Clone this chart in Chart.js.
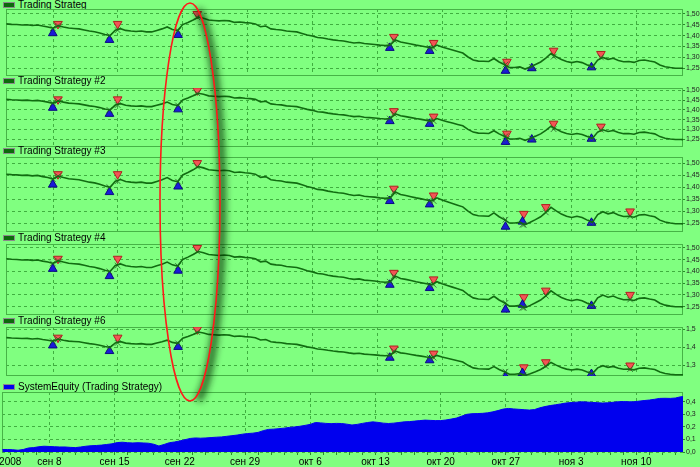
<!DOCTYPE html>
<html>
<head>
<meta charset="utf-8">
<script src="https://cdn.jsdelivr.net/npm/chart.js@4.4.0/dist/chart.umd.min.js"></script>
<style>
  body { margin: 0; background: #80ff80; }
  #wrap { position: relative; width: 700px; height: 467px; overflow: hidden; background: #80ff80; font-family: "Liberation Sans", Arial, sans-serif; }
  #wrap canvas { position: absolute; left: 0; top: 0; }
  .box { position: absolute; left: 3px; width: 10px; height: 4px; border: 1px solid #8a8a8a; }
  .lbl { position: absolute; left: 18px; font-size: 10px; line-height: 10px; color: #000; white-space: nowrap; }
  svg { position: absolute; left: 0; top: 0; pointer-events: none; }
</style>
</head>
<body>
<div id="wrap"></div>
<script>
// time axis: trading days, 0 = Mon Sep 8 2008, one value every 0.4 day
const startDay = -3.6;
const stepDay = 0.4;

// close price (same instrument in all five strategy panels)
const price = [
  1.454, 1.452, 1.451, 1.449, 1.450, 1.447, 1.449, 1.444, 1.440, 1.434,
  1.446, 1.440, 1.435, 1.433, 1.431, 1.426, 1.421, 1.418, 1.412, 1.405,
  1.400, 1.425, 1.432, 1.424, 1.421, 1.419, 1.421, 1.417, 1.417, 1.424,
  1.431, 1.440, 1.428, 1.423, 1.451, 1.461, 1.472, 1.485, 1.480, 1.472,
  1.470, 1.468, 1.470, 1.468, 1.461, 1.463, 1.460, 1.458, 1.454, 1.441,
  1.444, 1.431, 1.428, 1.426, 1.421, 1.419, 1.417, 1.410, 1.403, 1.398,
  1.391, 1.389, 1.384, 1.380, 1.377, 1.375, 1.370, 1.366, 1.368, 1.363,
  1.361, 1.359, 1.356, 1.354, 1.356, 1.380, 1.370, 1.366, 1.361, 1.356,
  1.352, 1.347, 1.343, 1.356, 1.347, 1.340, 1.333, 1.326, 1.319, 1.301,
  1.287, 1.282, 1.281, 1.280, 1.294, 1.278, 1.266, 1.252, 1.252, 1.255,
  1.245, 1.255, 1.266, 1.278, 1.296, 1.317, 1.302, 1.289, 1.280, 1.275,
  1.280, 1.275, 1.264, 1.255, 1.287, 1.299, 1.290, 1.295, 1.285, 1.279,
  1.280, 1.276, 1.285, 1.287, 1.282, 1.278, 1.264, 1.256, 1.252, 1.249,
  1.249, 1.248
];

// system equity, bottom panel
const equity = [
  0.020, 0.020, 0.018, 0.014, 0.020, 0.032, 0.035, 0.042, 0.046, 0.044,
  0.042, 0.040, 0.040, 0.037, 0.035, 0.040, 0.046, 0.050, 0.052, 0.055,
  0.060, 0.065, 0.075, 0.078, 0.074, 0.072, 0.074, 0.072, 0.070, 0.062,
  0.048, 0.060, 0.074, 0.080, 0.088, 0.098, 0.108, 0.112, 0.110, 0.112,
  0.115, 0.118, 0.120, 0.125, 0.130, 0.135, 0.142, 0.147, 0.150, 0.156,
  0.170, 0.180, 0.182, 0.186, 0.190, 0.196, 0.200, 0.205, 0.212, 0.220,
  0.235, 0.232, 0.228, 0.226, 0.228, 0.227, 0.222, 0.215, 0.220, 0.228,
  0.235, 0.240, 0.236, 0.230, 0.227, 0.230, 0.235, 0.240, 0.242, 0.246,
  0.250, 0.254, 0.252, 0.250, 0.250, 0.255, 0.262, 0.270, 0.285, 0.300,
  0.305, 0.306, 0.308, 0.312, 0.320, 0.330, 0.342, 0.347, 0.343, 0.340,
  0.337, 0.334, 0.338, 0.352, 0.362, 0.370, 0.376, 0.383, 0.390, 0.394,
  0.397, 0.400, 0.398, 0.395, 0.393, 0.390, 0.392, 0.396, 0.400, 0.402,
  0.400, 0.400, 0.405, 0.410, 0.414, 0.420, 0.427, 0.428, 0.427, 0.430,
  0.440, 0.442
];

const seriesNames = ["Trading Strateg", "Trading Strategy #2", "Trading Strategy #3",
  "Trading Strategy #4", "Trading Strategy #6"];
const equityName = "SystemEquity (Trading Strategy)";

// trade markers [trading day, price]
const buys1 = [[-0.02, 1.411], [4.35, 1.380], [9.64, 1.403], [25.97, 1.343], [29.04, 1.329], [34.89, 1.237], [36.92, 1.249], [41.52, 1.253]];
const sells1 = [[0.38, 1.454], [4.98, 1.454], [11.12, 1.500], [26.28, 1.394], [29.35, 1.366], [35.00, 1.279], [38.60, 1.330], [42.25, 1.315]];
const buys2 = buys1;
const sells2 = sells1;
const buys3 = [[-0.02, 1.411], [4.35, 1.380], [9.64, 1.403], [25.97, 1.343], [29.04, 1.329], [34.89, 1.237], [36.20, 1.258], [41.52, 1.253]];
const sells3 = [[0.38, 1.454], [4.98, 1.454], [11.12, 1.500], [26.28, 1.394], [29.35, 1.366], [36.30, 1.290], [38.00, 1.318], [44.50, 1.300]];
const buys4 = buys3;
const sells4 = sells3;
const buys6 = buys3;
const sells6 = sells3;
const allBuys = [buys1, buys2, buys3, buys4, buys6];
const allSells = [sells1, sells2, sells3, sells4, sells6];

// axis ticks
const weekDays = [0, 5, 10, 15, 20, 25, 30, 35, 40, 45];
const weekLabels = ["сен 8", "сен 15", "сен 22", "сен 29", "окт 6", "окт 13", "окт 20", "окт 27", "ноя 3", "ноя 10"];
const yearDay = -3;
const yearLabel = "2008";
const priceTicks = [1.25, 1.30, 1.35, 1.40, 1.45, 1.50];
const priceTicksCoarse = [1.3, 1.4, 1.5];
const equityTicks = [0.0, 0.1, 0.2, 0.3, 0.4];

// layout of the six panels (pixel rows of the plot boxes, legend text top)
const xMin = -3.63, xMax = 48.58;
const layout = [
  { top: 9, bottom: 76, min: 1.213, max: 1.523, legend: 1 },
  { top: 88, bottom: 147, min: 1.211, max: 1.512, legend: 77.3 },
  { top: 157, bottom: 232, min: 1.215, max: 1.525, legend: 147.3 },
  { top: 244, bottom: 315, min: 1.214, max: 1.517, legend: 234 },
  { top: 327, bottom: 376, min: 1.242, max: 1.513, legend: 317.3 },
  { top: 392, bottom: 452, min: 0, max: 0.478, legend: 383 }
];

const gridColor = "#3fae3f";
const frameColor = "#46b446";
const lineColor = "#116c11";

const wrap = document.getElementById("wrap");
const xs = price.map((v, i) => startDay + i * stepDay);

// price value at a trading day, used to put the small cross of each trade on the line
function priceAt(d) {
  const k = Math.max(0, Math.min(price.length - 1, Math.round((d - startDay) / stepDay)));
  return price[k];
}

const frame = {
  id: "frame",
  beforeDatasetsDraw(chart) {
    const a = chart.chartArea;
    const c = chart.ctx;
    c.save();
    c.strokeStyle = frameColor;
    c.lineWidth = 1;
    c.strokeRect(Math.round(a.left) + 0.5, Math.round(a.top) + 0.5, Math.round(a.width) - 1, Math.round(a.height) - 1);
    c.restore();
  }
};

function addLegend(text, y, color) {
  const b = document.createElement("div");
  b.className = "box";
  b.style.top = (y + 1) + "px";
  b.style.background = color;
  wrap.appendChild(b);
  const t = document.createElement("div");
  t.className = "lbl";
  t.style.top = (y - 1.3) + "px";
  t.textContent = text;
  wrap.appendChild(t);
}

function makeCanvas() {
  const cv = document.createElement("canvas");
  cv.width = 700;
  cv.height = 467;
  wrap.appendChild(cv);
  return cv;
}

function yScale(L, ticks, digits) {
  return {
    position: "right",
    min: L.min,
    max: L.max,
    afterFit: s => { s.width = 17; s.paddingTop = 0; s.paddingBottom = 0; },
    afterBuildTicks: s => { s.ticks = ticks.map(v => ({ value: v })); },
    ticks: {
      font: { size: 7, family: "Liberation Sans Narrow, Liberation Sans, Arial" },
      color: "#222",
      padding: 1,
      callback: v => v.toFixed(digits).replace(".", ",")
    },
    grid: { color: gridColor, tickColor: "#2a8a2a", tickLength: 2, lineWidth: 1 },
    border: { display: false, dash: [3, 3] }
  };
}

// five price panels
for (let p = 0; p < 5; p++) {
  const L = layout[p];
  addLegend(seriesNames[p], L.legend, "#0b6b0b");
  const coarse = p === 4;
  const trades = allBuys[p].concat(allSells[p]);
  new Chart(makeCanvas(), {
    type: "line",
    data: {
      datasets: [
        {
          data: price.map((v, i) => ({ x: xs[i], y: v })),
          borderColor: lineColor, borderWidth: 1.6, pointRadius: 0, tension: 0
        },
        {
          data: trades.map(m => ({ x: m[0], y: priceAt(m[0]) })),
          showLine: false, pointStyle: "crossRot", pointRadius: 4,
          borderColor: "#2b5f2b", borderWidth: 0.8
        },
        {
          data: allBuys[p].map(m => ({ x: m[0], y: m[1] })),
          showLine: false, pointStyle: "triangle", pointRadius: 5,
          backgroundColor: "#1a1ad8", borderColor: "#0a0a80", borderWidth: 1
        },
        {
          data: allSells[p].map(m => ({ x: m[0], y: m[1] })),
          showLine: false, pointStyle: "triangle", pointRotation: 180, pointRadius: 5,
          backgroundColor: "#f25555", borderColor: "#b02020", borderWidth: 1
        }
      ]
    },
    options: {
      animation: false, responsive: false, maintainAspectRatio: false,
      layout: { padding: { left: 2, right: 0, top: L.top, bottom: 467 - L.bottom } },
      plugins: { legend: { display: false }, tooltip: { enabled: false } },
      scales: {
        x: {
          type: "linear", min: xMin, max: xMax,
          afterFit: s => { s.height = 0; s.paddingLeft = 0; s.paddingRight = 0; },
          afterBuildTicks: s => { s.ticks = weekDays.map(v => ({ value: v })); },
          ticks: { display: false },
          grid: { color: gridColor, drawTicks: false },
          border: { display: false, dash: [3, 3] }
        },
        y: yScale(L, coarse ? priceTicksCoarse : priceTicks, coarse ? 1 : 2)
      }
    },
    plugins: [frame]
  });
}

// equity panel with the date axis
const LE = layout[5];
addLegend(equityName, LE.legend, "#0000ee");
const dayTicks = [];
for (let d = -3; d <= 48; d++) dayTicks.push(d);
new Chart(makeCanvas(), {
  type: "line",
  data: {
    datasets: [{
      data: equity.map((v, i) => ({ x: xs[i], y: v })),
      borderColor: "#0000ee", backgroundColor: "#0000ee", borderWidth: 1,
      pointRadius: 0, tension: 0, fill: "origin"
    }]
  },
  options: {
    animation: false, responsive: false, maintainAspectRatio: false,
    layout: { padding: { left: 2, right: 0, top: LE.top, bottom: 0 } },
    plugins: { legend: { display: false }, tooltip: { enabled: false } },
    scales: {
      x: {
        type: "linear", min: xMin, max: xMax,
        afterFit: s => { s.height = 467 - LE.bottom; s.paddingLeft = 0; s.paddingRight = 0; },
        afterBuildTicks: s => { s.ticks = dayTicks.map(v => ({ value: v })); },
        ticks: {
          autoSkip: false, maxRotation: 0, padding: 1,
          font: { size: 10, family: "Liberation Sans, Arial" }, color: "#000",
          callback: v => {
            if (v === yearDay) return yearLabel;
            const k = weekDays.indexOf(v);
            return k >= 0 ? weekLabels[k] : "";
          }
        },
        grid: {
          color: c => (weekDays.indexOf(c.tick.value) >= 0 ? gridColor : "rgba(0,0,0,0)"),
          tickColor: "#2a8a2a", tickLength: 3
        },
        border: { display: false, dash: [3, 3] }
      },
      y: yScale(LE, equityTicks, 1)
    }
  },
  plugins: [frame]
});
</script>
<svg width="700" height="467" style="position:absolute;left:0;top:0">
  <defs><filter id="soft" x="-50%" y="-10%" width="200%" height="120%"><feGaussianBlur stdDeviation="3.5"/></filter></defs>
  <path d="M 192 8 A 30 199 0 0 1 192 398" transform="translate(6,2)" stroke="rgba(0,40,0,0.75)" stroke-width="7" fill="none" filter="url(#soft)"/>
  <ellipse cx="190" cy="202" rx="30" ry="199" stroke="#ff1a1a" stroke-width="1.6" fill="none"/>
</svg>
</body>
</html>
